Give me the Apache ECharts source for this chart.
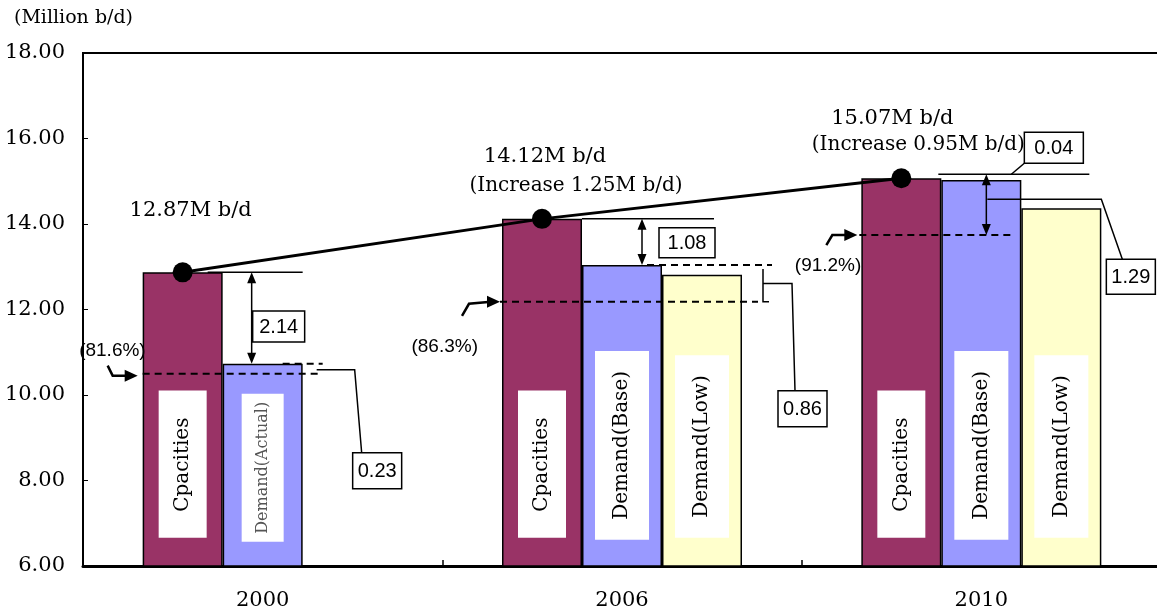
<!DOCTYPE html>
<html>
<head>
<meta charset="utf-8">
<script src="https://cdn.jsdelivr.net/npm/echarts@6/dist/echarts.min.js"></script>
<style>
  html, body { margin: 0; padding: 0; background: #fff; }
  #chart { width: 1157px; height: 615px; }
</style>
</head>
<body>
<div id="chart"></div>
<script>
// Refining capacity vs. demand (million barrels per day)
const years = ['2000', '2006', '2010'];
const capacity = [12.87, 14.12, 15.07];
const demandBase = [10.73, 13.04, 15.03];      // 2000 is the actual demand
const demandLow = [null, 12.81, 14.37];
const utilisation = ['81.6%', '86.3%', '91.2%'];
const utilLevel = [10.50, 12.18, 13.74];       // capacity x utilisation rate
const headroom = ['2.14', '1.08', '0.04'];     // capacity minus base demand
const surplus = ['0.23', '0.86', '1.29'];      // base demand above utilisation level
const increase = [null, '1.25', '0.95'];
const barNames = ['Cpacities', 'Demand(Base)', 'Demand(Low)'];
const actualName = 'Demand(Actual)';
const yTickLabels = ['6.00', '8.00', '10.00', '12.00', '14.00', '16.00', '18.00'];

const BW = 80;
const SERIF = '"DejaVu Serif", "Liberation Serif", serif';
const SANS = '"Liberation Sans", Arial, sans-serif';

const chart = echarts.init(document.getElementById('chart'), null, { renderer: 'canvas' });

function barLabel(text, fontSize, padding, distance, color) {
  return {
    show: true,
    position: 'insideBottom',
    distance: distance,
    rotate: 90,
    align: 'left',
    verticalAlign: 'middle',
    formatter: text,
    fontFamily: SERIF,
    fontSize: fontSize,
    lineHeight: fontSize,
    color: color || '#000',
    backgroundColor: '#fff',
    padding: padding
  };
}

const barBorder = { borderColor: '#000', borderWidth: 1.5 };

chart.setOption({
  animation: false,
  grid: { left: 83, top: 53, width: 1078, height: 513, show: true, borderColor: '#000', borderWidth: 2, outerBoundsMode: 'none' },
  xAxis: {
    type: 'category',
    data: years,
    axisLine: { lineStyle: { color: '#000', width: 3 } },
    axisTick: { show: true, inside: true, length: 6, lineStyle: { color: '#000', width: 1.5 } },
    axisLabel: { fontFamily: SERIF, fontSize: 21, color: '#000', margin: 24 },
    splitLine: { show: false }
  },
  yAxis: {
    type: 'value',
    min: 6, max: 18, interval: 2,
    axisLine: { show: true, lineStyle: { color: '#000', width: 2 } },
    axisTick: { show: true, inside: true, length: 5, lineStyle: { color: '#000', width: 1 } },
    axisLabel: {
      fontFamily: SERIF, fontSize: 21, color: '#000', margin: 18,
      formatter: v => yTickLabels[Math.round((v - 6) / 2)]
    },
    splitLine: { show: false }
  },
  series: [
    {
      type: 'bar', name: barNames[0], data: capacity,
      barWidth: BW, barGap: '0%',
      itemStyle: Object.assign({ color: '#993366' }, barBorder),
      label: barLabel(barNames[0], 20, [14, 27, 14, 26], 29)
    },
    {
      type: 'bar', name: barNames[1],
      data: demandBase.map((v, i) => i === 0
        ? { value: v, label: barLabel(actualName, 16, [13, 8, 13, 8], 25, '#555') }
        : v),
      barWidth: BW, barGap: '0%',
      itemStyle: Object.assign({ color: '#9999FF' }, barBorder),
      label: barLabel(barNames[1], 20, [17, 20, 17, 20], 27)
    },
    {
      type: 'bar', name: barNames[2],
      data: demandLow.map(v => v == null ? '-' : v),
      barWidth: BW, barGap: '0%',
      itemStyle: Object.assign({ color: '#FFFFCC' }, barBorder),
      label: barLabel(barNames[2], 20, [17, 20, 17, 20], 29)
    }
  ]
});

// ---- annotations drawn on top of the bars ----
function buildAnnotations() {
  const G = [];
  const Z = 100;
  const poly = (pts, w, dash) => G.push({
    type: 'polyline', z: Z, silent: true, shape: { points: pts },
    style: { stroke: '#000', lineWidth: w || 1.5, fill: null, lineDash: dash || null }
  });
  const dashed = (x1, x2, y) => poly([[x1, y], [x2, y]], 2, [7, 5]);
  const text = (str, x, y, font, align) => G.push({
    type: 'text', z: Z + 2, silent: true, x: x, y: y,
    style: { text: str, font: font, fill: '#000', align: align || 'center', verticalAlign: 'middle',
             textAlign: align || 'center', textVerticalAlign: 'middle' }
  });
  const box = (str, x, y, w, h) => {
    G.push({ type: 'rect', z: Z + 1, silent: true, shape: { x: x, y: y, width: w, height: h },
             style: { fill: '#fff', stroke: '#000', lineWidth: 1.5 } });
    text(str, x + w / 2, y + h / 2 + 1, '20px ' + SANS);
  };
  const head = (tx, ty, ux, uy, len, half) => {
    len = len || 11; half = half || 4.5;
    const bx = tx - ux * len, by = ty - uy * len;
    G.push({ type: 'polygon', z: Z, silent: true,
      shape: { points: [[tx, ty], [bx - uy * half, by + ux * half], [bx + uy * half, by - ux * half]] },
      style: { fill: '#000' } });
  };
  const dblArrow = (x, y1, y2) => {
    poly([[x, y1 + 6], [x, y2 - 6]], 1.5);
    head(x, y1, 0, -1);
    head(x, y2, 0, 1);
  };
  const bentArrow = (pts, tip) => {
    poly(pts.concat([[tip[0] - 9, tip[1]]]), 2.5);
    head(tip[0], tip[1], 1, 0, 13, 6);
  };

  const cx = i => chart.convertToPixel({ gridIndex: 0 }, [i, 6])[0];
  const Y = v => chart.convertToPixel({ gridIndex: 0 }, [0, v])[1];
  const slot = (i, k) => cx(i) + (k - 1.5) * BW;   // left edge of k-th bar in group i

  // capacity trend line with markers on the capacity bars
  const dots = capacity.map((v, i) => [slot(i, 0) + BW / 2, Y(v)]);
  poly(dots, 3);
  dots.forEach(p => G.push({ type: 'circle', z: Z + 1, silent: true,
    shape: { cx: p[0], cy: p[1], r: 10 }, style: { fill: '#000' } }));

  const F21 = '21px ' + SERIF, F20 = '20px ' + SERIF, P = '19px ' + SANS;

  // 2000
  {
    const i = 0, capY = Y(capacity[i]), baseY = Y(demandBase[i]), lvY = Y(utilLevel[i]);
    const capL = slot(i, 0), baseL = slot(i, 1), baseR = slot(i, 2);
    text(capacity[i].toFixed(2) + 'M b/d', dots[i][0] + 8, dots[i][1] - 62, F21);
    poly([[baseL - 15, capY], [baseR, capY]], 1.5);
    const ax = baseL + 29;
    dblArrow(ax, capY, baseY);
    box(headroom[i], ax + 1, (capY + baseY) / 2 - 7, 52, 31);
    dashed(capL, baseR + 17, lvY);
    dashed(baseR - 20, baseR + 20, baseY);
    const by = (baseY + lvY) / 2 + 1;
    poly([[baseR + 14, by], [baseR + 52, by], [baseR + 59, by + 83]], 1.5);
    box(surplus[i], baseR + 50, by + 83, 49, 36);
    text('(' + utilisation[i] + ')', capL + 3, lvY - 23, P, 'right');
    bentArrow([[capL - 35, lvY - 8], [capL - 30, lvY + 2]], [capL - 5, lvY + 2]);
  }

  // 2006
  {
    const i = 1, capY = Y(capacity[i]), baseY = Y(demandBase[i]), lvY = Y(utilLevel[i]);
    const capL = slot(i, 0), baseL = slot(i, 1), lowL = slot(i, 2), lowR = slot(i, 3);
    text(capacity[i].toFixed(2) + 'M b/d', dots[i][0] + 3, dots[i][1] - 62, F21);
    text('(Increase ' + increase[i] + 'M b/d)', dots[i][0] + 34, dots[i][1] - 33, F20);
    poly([[baseL, capY], [lowL + 52, capY]], 1.5);
    const ax = baseL + 60;
    dblArrow(ax, capY, baseY);
    box(headroom[i], ax + 17, capY + 9, 56, 30);
    dashed(ax + 5, lowR + 30, baseY);
    dashed(capL - 2, lowR + 16, lvY);
    poly([[lowR + 21, baseY + 4], [lowR + 21, lvY], [lowR + 27, lvY]], 1.5);
    const my = (baseY + lvY) / 2;
    poly([[lowR + 21, my], [lowR + 50, my], [lowR + 53, lvY + 89]], 1.5);
    box(surplus[i], lowR + 36, lvY + 89, 49, 36);
    text('(' + utilisation[i] + ')', capL - 24, lvY + 45, P, 'right');
    bentArrow([[capL - 40, lvY + 14], [capL - 33, lvY + 2]], [capL - 2, lvY]);
  }

  // 2010
  {
    const i = 2, capY = Y(capacity[i]), lvY = Y(utilLevel[i]);
    const capL = slot(i, 0), baseL = slot(i, 1), lowL = slot(i, 2), lowR = slot(i, 3);
    text(capacity[i].toFixed(2) + 'M b/d', dots[i][0] - 9, dots[i][1] - 60, F21);
    text('(Increase ' + increase[i] + 'M b/d)', dots[i][0] + 17, dots[i][1] - 33, F20);
    const topY = capY - 4;
    box(headroom[i], lowL + 3, capY - 46, 59, 31);
    poly([[lowL + 3, capY - 15], [lowL - 10, topY]], 1.5);
    poly([[baseL - 3, topY], [lowR - 12, topY]], 1.5);
    const ax = baseL + 45;
    dblArrow(ax, topY, lvY);
    dashed(capL - 2, baseL + 73, lvY);
    poly([[ax + 1, capY + 21], [lowR, capY + 21], [lowR + 21, capY + 81]], 1.5);
    box(surplus[i], lowR + 5, capY + 81, 49, 35);
    text('(' + utilisation[i] + ')', capL, lvY + 31, P, 'right');
    bentArrow([[capL - 35, lvY + 10], [capL - 29, lvY]], [capL - 4, lvY]);
  }

  // unit caption
  G.push({ type: 'text', z: Z, silent: true, x: 14, y: 18,
    style: { text: '(Million b/d)', font: '19px ' + SERIF, fill: '#000',
             align: 'left', verticalAlign: 'middle', textAlign: 'left', textVerticalAlign: 'middle' } });

  chart.setOption({ graphic: { elements: G } });
}

buildAnnotations();
</script>
</body>
</html>
